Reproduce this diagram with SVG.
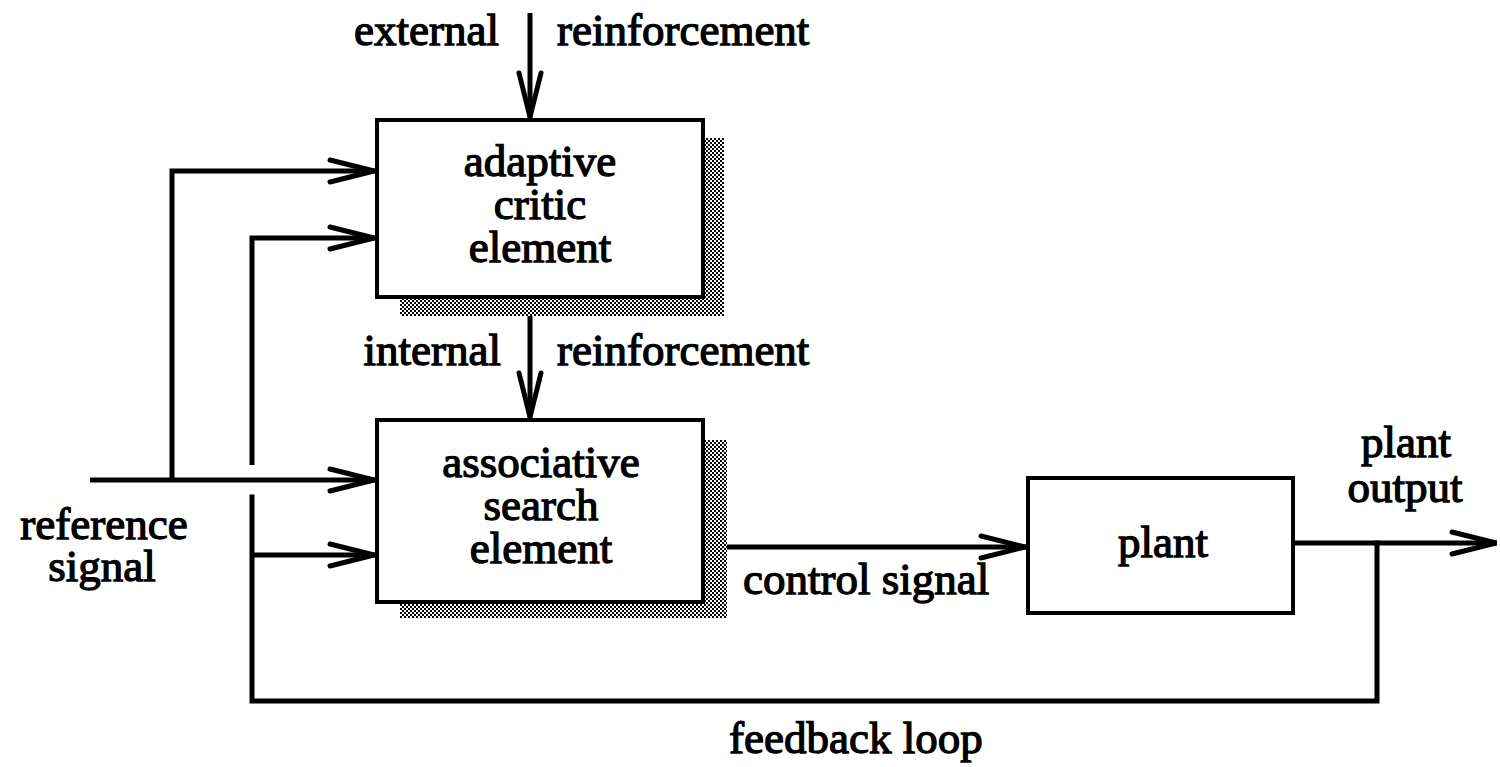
<svg xmlns="http://www.w3.org/2000/svg" width="1500" height="767" viewBox="0 0 1500 767">
  <style>
    .box { fill: #fff; stroke: #000; stroke-width: 4; }
    .shadow { fill: url(#dither); }
    .lbl { font-family: "Liberation Serif", "Times New Roman", serif; font-size: 45px; fill: #000; stroke: #000; stroke-width: 1.3; }
    .mid { text-anchor: middle; }
    .end { text-anchor: end; }
    .wire { fill: none; stroke: #000; stroke-width: 5; stroke-linecap: square; }
    .arr { fill: none; stroke: #000; stroke-width: 5; marker-end: url(#vee); }
  </style>
  <defs>
    <pattern id="dither" width="4" height="4" patternUnits="userSpaceOnUse">
      <rect width="4" height="4" fill="#fff"/>
      <rect width="2" height="2" fill="#000"/>
      <rect x="2" y="2" width="2" height="2" fill="#000"/>
    </pattern>
    <marker id="vee" viewBox="-50 -16 56 32" refX="1" refY="0" markerWidth="56" markerHeight="32" markerUnits="userSpaceOnUse" orient="auto">
      <path d="M-44,-11 L0,0 L-44,11" fill="none" stroke="#000" stroke-width="5" stroke-linejoin="miter" stroke-linecap="round"/>
    </marker>
  </defs>

  <g id="connectors">
    <line class="arr" x1="530" y1="13" x2="530" y2="118"/>
    <line class="arr" x1="530" y1="299" x2="530" y2="418"/>
    <line class="arr" x1="90" y1="480" x2="375" y2="480"/>
    <path class="arr" d="M172,480 L172,171 L375,171"/>
    <path class="arr" d="M252,465 L252,238 L375,238"/>
    <path class="wire" d="M1377,543 L1377,701 L252,701 L252,497"/>
    <line class="arr" x1="252" y1="555" x2="375" y2="555"/>
    <line class="arr" x1="703" y1="547" x2="1026" y2="547"/>
    <line class="arr" x1="1293" y1="543" x2="1497" y2="543"/>
  </g>

  <g id="adaptive-critic">
    <rect class="shadow" x="400" y="138" width="324" height="178"/>
    <rect class="box" x="377" y="120" width="326" height="177"/>
    <text class="lbl mid" x="540" y="176">adaptive<tspan x="540" dy="43">critic</tspan><tspan x="540" dy="43">element</tspan></text>
  </g>

  <g id="associative-search">
    <rect class="shadow" x="400" y="440" width="327" height="178"/>
    <rect class="box" x="377" y="420" width="326" height="182"/>
    <text class="lbl mid" x="541" y="477">associative<tspan x="541" dy="43">search</tspan><tspan x="541" dy="43">element</tspan></text>
  </g>

  <g id="plant">
    <rect class="box" x="1028" y="478" width="265" height="135"/>
    <text class="lbl mid" x="1163" y="557">plant</text>
  </g>

  <g id="labels">
    <text class="lbl end" x="499" y="45">external</text>
    <text class="lbl" x="557" y="45">reinforcement</text>
    <text class="lbl end" x="501" y="365">internal</text>
    <text class="lbl" x="557" y="365">reinforcement</text>
    <text class="lbl mid" x="104" y="539">reference<tspan x="102" dy="42">signal</tspan></text>
    <text class="lbl" x="743" y="594">control signal</text>
    <text class="lbl mid" x="1406" y="457">plant<tspan x="1405" dy="45">output</tspan></text>
    <text class="lbl" x="729" y="753">feedback loop</text>
  </g>
</svg>
